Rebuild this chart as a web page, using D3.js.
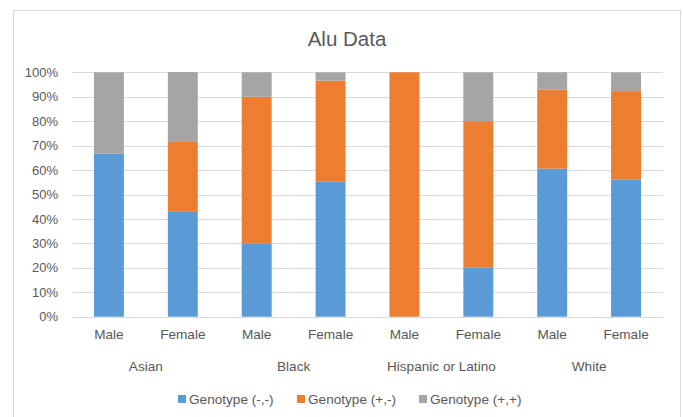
<!DOCTYPE html>
<html>
<head>
<meta charset="utf-8">
<script src="https://cdn.jsdelivr.net/npm/d3@7"></script>
<style>
  html, body { margin: 0; padding: 0; background: #ffffff; }
  svg { display: block; font-family: "Liberation Sans", Arial, sans-serif; }
</style>
</head>
<body>
<svg id="chart" width="683" height="417"></svg>
<script>
// Alu genotype shares by group and sex (percent of each column)
const groups = ["Asian", "Black", "Hispanic or Latino", "White"];
const sexes = ["Male", "Female"];
const seriesNames = ["Genotype (-,-)", "Genotype (+,-)", "Genotype (+,+)"];
const seriesColors = ["#5B9BD5", "#ED7D31", "#A5A5A5"];
const genoNegNeg = [66.7, 42.9, 30.0, 55.2, 0.0, 20.0, 60.6, 56.2];
const genoPosNeg = [0.0, 28.6, 60.0, 41.4, 100.0, 60.0, 32.3, 36.1];
const genoPosPos = [33.3, 28.6, 10.0, 3.4, 0.0, 20.0, 7.1, 7.7];
const yTicks = [0, 10, 20, 30, 40, 50, 60, 70, 80, 90, 100];

const columns = [];
groups.forEach((g, gi) => sexes.forEach((s, si) => {
  const i = gi * sexes.length + si;
  columns.push({ key: g + "|" + s, group: g, sex: s,
    v0: genoNegNeg[i], v1: genoPosNeg[i], v2: genoPosPos[i] });
}));

const svg = d3.select("#chart");
const plot = { left: 72, right: 663, top: 72.3, bottom: 316.7 };
const textColor = "#595959";
const gridColor = "#d9d9d9";
const labelSize = 13.6;

// chart frame
svg.append("rect")
  .attr("x", 13.5).attr("y", 10.5)
  .attr("width", 667).attr("height", 420)
  .attr("fill", "#fff").attr("stroke", gridColor).attr("stroke-width", 1);

// title
svg.append("text")
  .attr("x", 347).attr("y", 45.5)
  .attr("text-anchor", "middle")
  .attr("font-size", 20.5)
  .attr("fill", textColor)
  .text("Alu Data");

const x = d3.scaleBand()
  .domain(columns.map(d => d.key))
  .range([plot.left, plot.right])
  .padding(0);
const barW = x.bandwidth() * 0.405;

const y = d3.scaleLinear().domain([0, 100]).range([plot.bottom, plot.top]);

// gridlines
svg.append("g")
  .selectAll("line")
  .data(yTicks)
  .join("line")
  .attr("x1", plot.left).attr("x2", plot.right)
  .attr("y1", d => Math.round(y(d)) + 0.5)
  .attr("y2", d => Math.round(y(d)) + 0.5)
  .attr("stroke", gridColor)
  .attr("stroke-width", 1);

// y axis labels
const yAxis = d3.axisLeft(y)
  .tickValues(yTicks)
  .tickFormat(d => d + "%")
  .tickSize(0)
  .tickPadding(0);
const yg = svg.append("g")
  .attr("transform", `translate(${plot.left - 14},0)`)
  .call(yAxis);
yg.select(".domain").remove();
yg.selectAll("text")
  .attr("fill", textColor)
  .attr("font-size", 13)
  .attr("font-family", "Liberation Sans, Arial, sans-serif");

// stacked bars
const stack = d3.stack().keys(["v0", "v1", "v2"]);
const layers = stack(columns);
svg.append("g")
  .selectAll("g")
  .data(layers)
  .join("g")
  .attr("fill", (d, i) => seriesColors[i])
  .selectAll("rect")
  .data(d => d)
  .join("rect")
  .attr("x", d => x(d.data.key) + (x.bandwidth() - barW) / 2)
  .attr("width", barW)
  .attr("y", d => y(d[1]))
  .attr("height", d => Math.max(0, y(d[0]) - y(d[1])));

// sex labels
const xAxis = d3.axisBottom(x)
  .tickFormat(k => k.split("|")[1])
  .tickSize(0)
  .tickPadding(0);
const xg = svg.append("g")
  .attr("transform", `translate(0,${plot.bottom + 13})`)
  .call(xAxis);
xg.select(".domain").remove();
xg.selectAll("text")
  .attr("fill", textColor)
  .attr("font-size", labelSize)
  .attr("font-family", "Liberation Sans, Arial, sans-serif");

// group labels
svg.append("g")
  .selectAll("text")
  .data(groups)
  .join("text")
  .attr("x", g => {
    const keys = sexes.map(s => g + "|" + s);
    return (x(keys[0]) + x(keys[keys.length - 1]) + x.bandwidth()) / 2;
  })
  .attr("y", 370.5)
  .attr("text-anchor", "middle")
  .attr("font-size", labelSize)
  .attr("fill", textColor)
  .text(g => g);

// legend
const legendX = [178, 297, 419];
const legend = svg.append("g")
  .selectAll("g")
  .data(seriesNames)
  .join("g")
  .attr("transform", (d, i) => `translate(${legendX[i]},399)`);
legend.append("rect")
  .attr("x", 0).attr("y", -4)
  .attr("width", 8).attr("height", 8)
  .attr("fill", (d, i) => seriesColors[i]);
legend.append("text")
  .attr("x", 11).attr("y", 4.5)
  .attr("font-size", labelSize)
  .attr("fill", textColor)
  .text(d => d);
</script>
</body>
</html>
